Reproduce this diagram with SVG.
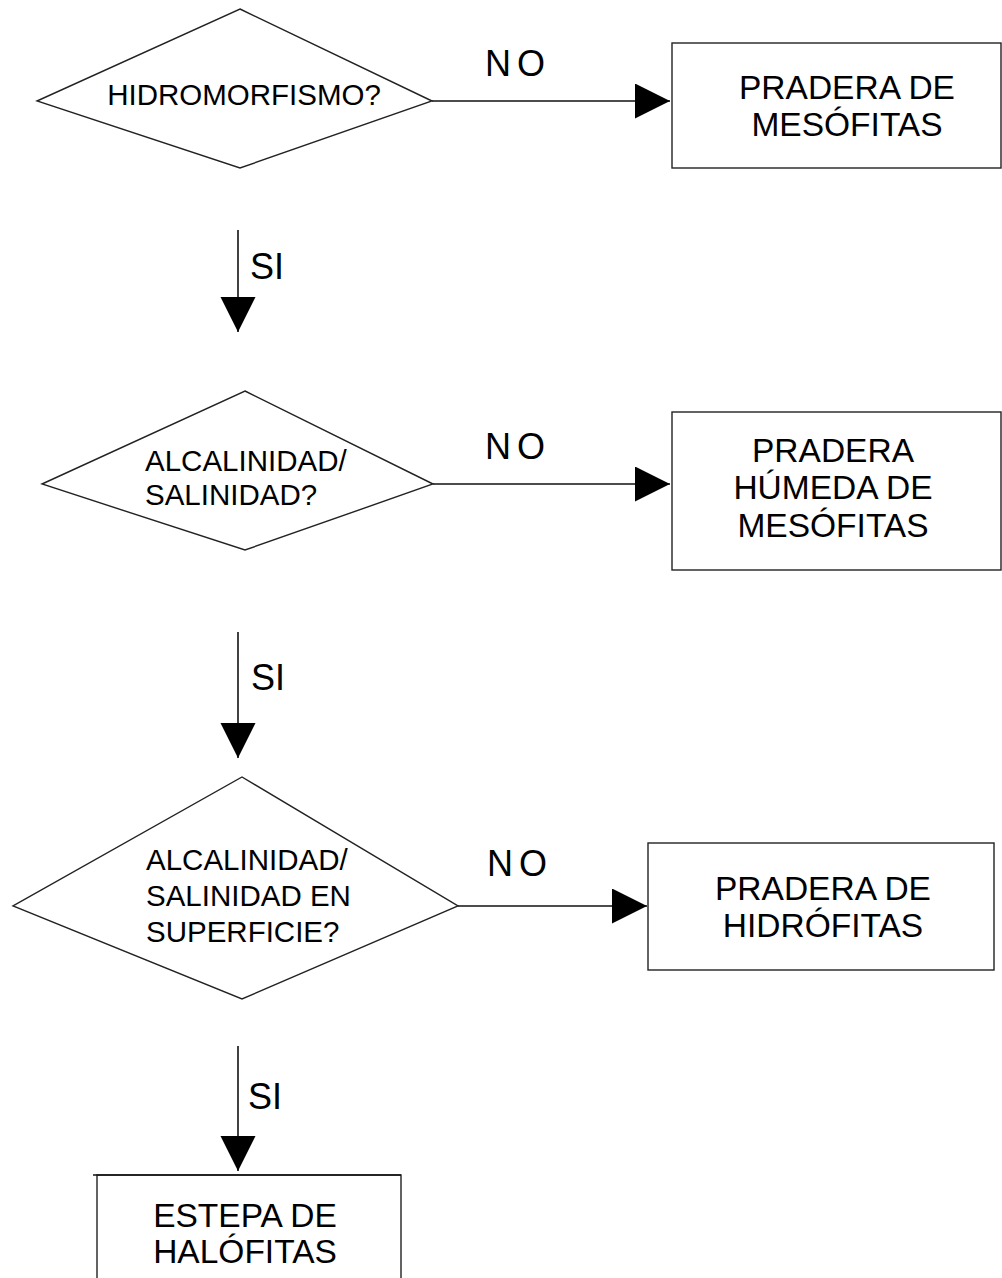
<svg xmlns="http://www.w3.org/2000/svg" width="1002" height="1278" viewBox="0 0 1002 1278">
<style>
  .shape { fill: #fff; stroke: #222; stroke-width: 1.4; }
  .conn { stroke: #111; stroke-width: 1.6; fill: none; }
  .t { font-family: "Liberation Sans", Arial, sans-serif; fill: #000; }
  .dt { font-size: 29.5px; }
  .bt { font-size: 33.5px; text-anchor: middle; }
  .lbl { font-size: 36px; }
</style>
<defs>
  <marker id="arr" markerUnits="userSpaceOnUse" markerWidth="36" markerHeight="36" refX="35" refY="17.5" orient="auto">
    <path d="M0,0 L35,17.5 L0,35 Z" fill="#000"/>
  </marker>
</defs>
<rect width="1002" height="1278" fill="#fff"/>

<g id="connectors">
  <line class="conn" x1="432" y1="101" x2="670" y2="101" marker-end="url(#arr)"/>
  <line class="conn" x1="238" y1="230" x2="238" y2="332" marker-end="url(#arr)"/>
  <line class="conn" x1="433" y1="484" x2="670" y2="484" marker-end="url(#arr)"/>
  <line class="conn" x1="238" y1="632" x2="238" y2="758" marker-end="url(#arr)"/>
  <line class="conn" x1="458" y1="906" x2="647" y2="906" marker-end="url(#arr)"/>
  <line class="conn" x1="238" y1="1046" x2="238" y2="1171" marker-end="url(#arr)"/>
  <text class="t lbl" x="485" y="76" letter-spacing="6">NO</text>
  <text class="t lbl" x="485" y="459" letter-spacing="6">NO</text>
  <text class="t lbl" x="487" y="876" letter-spacing="6">NO</text>
  <text class="t lbl" x="250" y="279">SI</text>
  <text class="t lbl" x="251" y="690">SI</text>
  <text class="t lbl" x="248" y="1109">SI</text>
</g>

<g id="q1">
  <polygon class="shape" points="240,9 432,101 240,168 37,101"/>
  <text class="t dt" x="244" y="105" text-anchor="middle">HIDROMORFISMO?</text>
</g>
<g id="r1">
  <rect class="shape" x="672" y="43" width="329" height="125"/>
  <text class="t bt" x="847" y="99">PRADERA DE</text>
  <text class="t bt" x="847" y="136">MESÓFITAS</text>
</g>

<g id="q2">
  <polygon class="shape" points="245,391 433,484 245,550 42,484"/>
  <text class="t dt" x="145" y="471">ALCALINIDAD/</text>
  <text class="t dt" x="145" y="505">SALINIDAD?</text>
</g>
<g id="r2">
  <rect class="shape" x="672" y="412" width="329" height="158"/>
  <text class="t bt" x="833" y="462">PRADERA</text>
  <text class="t bt" x="833" y="499">HÚMEDA DE</text>
  <text class="t bt" x="833" y="537">MESÓFITAS</text>
</g>

<g id="q3">
  <polygon class="shape" points="242,777 458,906 242,999 13,906"/>
  <text class="t dt" x="146" y="870">ALCALINIDAD/</text>
  <text class="t dt" x="146" y="906">SALINIDAD EN</text>
  <text class="t dt" x="146" y="942">SUPERFICIE?</text>
</g>
<g id="r3">
  <rect class="shape" x="648" y="843" width="346" height="127"/>
  <text class="t bt" x="823" y="900">PRADERA DE</text>
  <text class="t bt" x="823" y="937">HIDRÓFITAS</text>
</g>

<g id="r4">
  <rect class="shape" x="97" y="1175" width="304" height="130"/>
  <line class="conn" x1="93" y1="1175" x2="401" y2="1175"/>
  <text class="t bt" x="245" y="1227">ESTEPA DE</text>
  <text class="t bt" x="245" y="1263">HALÓFITAS</text>
</g>
</svg>
